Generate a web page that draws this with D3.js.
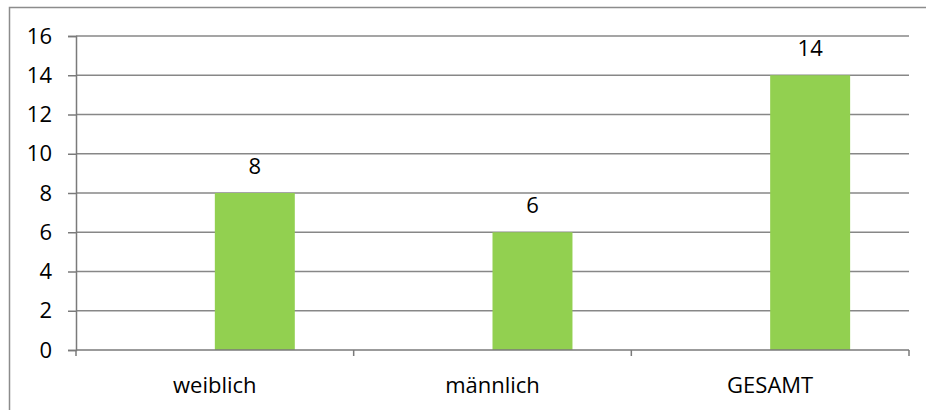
<!DOCTYPE html>
<html lang="de">
<head>
    <meta charset="UTF-8">
    <title>weiblich / männlich / GESAMT</title>
    <script src="https://d3js.org/d3.v7.min.js"></script>
    <style>
        body {
            margin: 0;
            background: #fff;
        }
        svg text {
            font-family: "Open Sans", "Liberation Sans", Arial, sans-serif;
            font-size: 22px;
            fill: #000;
        }
    </style>
</head>
<body>
    <div id="chart"></div>

    <script>
        // chart data
        const categories = ["weiblich", "männlich", "GESAMT"];
        const seriesNames = ["Reihe 1", "Reihe 2"];   // first series is empty in the original
        const series1 = [null, null, null];
        const series2 = [8, 6, 14];
        const yTicks = [0, 2, 4, 6, 8, 10, 12, 14, 16];

        const width = 926, height = 410;
        const plot = { left: 76, right: 909, top: 36, bottom: 350 };

        const svg = d3.select("#chart").append("svg")
            .attr("width", width)
            .attr("height", height);

        // outer chart border (cut off at right and bottom)
        svg.append("rect")
            .attr("x", 9.5).attr("y", 7.5)
            .attr("width", width).attr("height", height)
            .attr("fill", "none")
            .attr("stroke", "#8c8c8c")
            .attr("stroke-width", 1.5);

        const x0 = d3.scaleBand()
            .domain(categories)
            .range([plot.left, plot.right])
            .paddingInner(0.424)
            .paddingOuter(0.212);

        const x1 = d3.scaleBand()
            .domain(seriesNames)
            .range([0, x0.bandwidth()]);

        const y = d3.scaleLinear()
            .domain([0, 16])
            .range([plot.bottom, plot.top]);

        // gridlines
        svg.append("g")
            .selectAll("line")
            .data(yTicks.filter(d => d > 0))
            .enter().append("line")
            .attr("x1", plot.left).attr("x2", plot.right)
            .attr("y1", d => y(d)).attr("y2", d => y(d))
            .attr("stroke", "#878787")
            .attr("stroke-width", 1.5);

        // y axis
        const yAxis = svg.append("g")
            .attr("transform", `translate(${plot.left},0)`)
            .call(d3.axisLeft(y).tickValues(yTicks).tickSize(8).tickPadding(16));
        yAxis.select(".domain").attr("stroke", "#7a7a7a").attr("stroke-width", 1.5);
        yAxis.selectAll(".tick line").attr("stroke", "#7a7a7a").attr("stroke-width", 1.5);
        yAxis.selectAll("text").attr("font-size", null).attr("font-family", null).attr("fill", "#000");

        // bars
        const data = categories.map((c, i) => ({
            cat: c,
            vals: [{ s: seriesNames[0], v: series1[i] }, { s: seriesNames[1], v: series2[i] }]
        }));

        const groups = svg.append("g")
            .selectAll("g")
            .data(data)
            .enter().append("g")
            .attr("transform", d => `translate(${x0(d.cat)},0)`);

        groups.selectAll("rect")
            .data(d => d.vals.filter(e => e.v != null))
            .enter().append("rect")
            .attr("x", d => x1(d.s))
            .attr("width", x1.bandwidth())
            .attr("y", d => y(d.v))
            .attr("height", d => y(0) - y(d.v))
            .attr("fill", "#92d050");

        groups.selectAll("text")
            .data(d => d.vals.filter(e => e.v != null))
            .enter().append("text")
            .attr("x", d => x1(d.s) + x1.bandwidth() / 2)
            .attr("y", d => y(d.v) - 19)
            .attr("text-anchor", "middle")
            .text(d => d.v);

        // x axis: ticks on category boundaries
        const step = x0.step();
        const boundaries = d3.range(categories.length + 1).map(i => plot.left + i * step);
        const xAxis = svg.append("g");
        xAxis.append("line")
            .attr("x1", plot.left).attr("x2", plot.right)
            .attr("y1", y(0)).attr("y2", y(0))
            .attr("stroke", "#7a7a7a")
            .attr("stroke-width", 1.5);
        xAxis.selectAll(".bt")
            .data(boundaries)
            .enter().append("line")
            .attr("class", "bt")
            .attr("x1", d => d).attr("x2", d => d)
            .attr("y1", y(0)).attr("y2", y(0) + 6)
            .attr("stroke", "#7a7a7a")
            .attr("stroke-width", 1.5);
        xAxis.selectAll(".cat")
            .data(categories)
            .enter().append("text")
            .attr("class", "cat")
            .attr("x", d => x0(d) + x0.bandwidth() / 2)
            .attr("y", 393)
            .attr("text-anchor", "middle")
            .text(d => d);
    </script>
</body>
</html>
